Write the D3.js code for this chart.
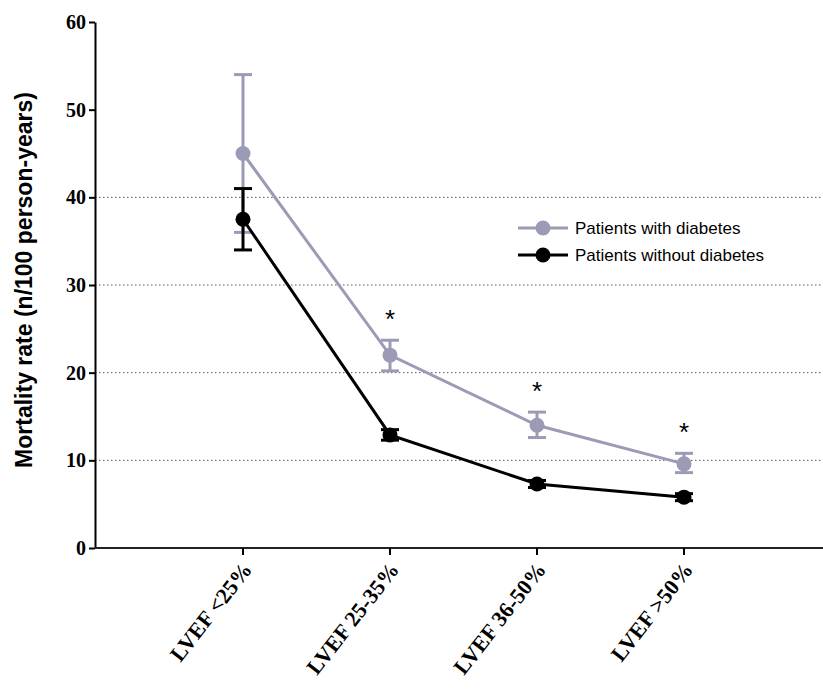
<!DOCTYPE html>
<html><head><meta charset="utf-8">
<script src="https://cdn.jsdelivr.net/npm/d3@7"></script>
<style>body{margin:0;background:#fff}</style>
</head><body>
<svg width="823" height="693"></svg>
<script>
var categories = ["LVEF <25%", "LVEF 25-35%", "LVEF 36-50%", "LVEF >50%"];
var withDiab = [45, 22, 14, 9.6];
var withDiabLo = [36, 20.2, 12.6, 8.6];
var withDiabHi = [54, 23.7, 15.5, 10.8];
var noDiab = [37.5, 12.9, 7.3, 5.8];
var noDiabLo = [34, 12.3, 6.9, 5.4];
var noDiabHi = [41, 13.5, 7.7, 6.2];
var stars = [false, true, true, true];
var yTicks = [0, 10, 20, 30, 40, 50, 60];

var svg = d3.select("svg");
var mLeft = 95, mRight = 823, mTop = 22, mBottom = 548;
var x = d3.scalePoint().domain(categories).range([243, 684]);
var y = d3.scaleLinear().domain([0, 60]).range([mBottom, mTop]);

// grid
svg.selectAll(".grid").data([10, 20, 30, 40]).enter().append("line")
  .attr("x1", mLeft).attr("x2", mRight)
  .attr("y1", function (d) { return y(d); }).attr("y2", function (d) { return y(d); })
  .attr("stroke", "#555").attr("stroke-dasharray", "1.5,2.5").attr("stroke-width", 1);

// y axis
var ya = svg.append("g").attr("transform", "translate(" + mLeft + ",0)")
  .call(d3.axisLeft(y).tickValues(yTicks).tickSize(6).tickSizeOuter(0));
ya.select(".domain").attr("stroke-width", 2);
ya.selectAll(".tick line").attr("stroke-width", 2);
ya.selectAll("text").attr("font-family", "Liberation Serif").attr("font-weight", "bold")
  .attr("font-size", 20).attr("fill", "#000");

// x axis
var xa = svg.append("g").attr("transform", "translate(0," + mBottom + ")");
xa.append("line").attr("x1", mLeft).attr("x2", mRight).attr("stroke", "#222").attr("stroke-width", 2);
xa.selectAll(".t").data(categories).enter().append("line")
  .attr("x1", function (d) { return x(d); }).attr("x2", function (d) { return x(d); })
  .attr("y1", 0).attr("y2", 7).attr("stroke", "#000").attr("stroke-width", 2);
xa.selectAll(".lab").data(categories).enter().append("text")
  .attr("transform", function (d) { return "translate(" + (x(d) + 10) + ",22) rotate(-52)"; })
  .attr("text-anchor", "end").attr("font-family", "Liberation Serif").attr("font-weight", "bold")
  .attr("font-size", 22).text(function (d) { return d; });

svg.append("text").attr("transform", "translate(32," + ((mTop + mBottom) / 2 - 5) + ") rotate(-90)")
  .attr("text-anchor", "middle").attr("font-family", "Liberation Sans").attr("font-weight", "bold")
  .attr("font-size", 23).text("Mortality rate (n/100 person-years)");

function series(vals, lo, hi, color) {
  var g = svg.append("g");
  g.append("path").datum(vals)
    .attr("d", d3.line().x(function (d, i) { return x(categories[i]); }).y(function (d) { return y(d); }))
    .attr("fill", "none").attr("stroke", color).attr("stroke-width", 3);
  categories.forEach(function (c, i) {
    var cx = x(c);
    g.append("line").attr("x1", cx).attr("x2", cx).attr("y1", y(lo[i])).attr("y2", y(hi[i]))
      .attr("stroke", color).attr("stroke-width", 3);
    [lo[i], hi[i]].forEach(function (v) {
      g.append("line").attr("x1", cx - 9).attr("x2", cx + 9).attr("y1", y(v)).attr("y2", y(v))
        .attr("stroke", color).attr("stroke-width", 3);
    });
    g.append("circle").attr("cx", cx).attr("cy", y(vals[i])).attr("r", 7.5).attr("fill", color);
  });
}
series(withDiab, withDiabLo, withDiabHi, "#9b9bb5");
series(noDiab, noDiabLo, noDiabHi, "#000");

svg.selectAll(".star").data(categories.filter(function (c, i) { return stars[i]; })).enter().append("text")
  .attr("x", function (d) { return x(d); })
  .attr("y", function (d) { return y(withDiabHi[categories.indexOf(d)]) - 12; })
  .attr("text-anchor", "middle").attr("font-family", "Liberation Sans").attr("font-size", 26)
  .text("*");

// legend
var legend = [["Patients with diabetes", "#9b9bb5"], ["Patients without diabetes", "#000"]];
var lg = svg.selectAll(".lg").data(legend).enter().append("g")
  .attr("transform", function (d, i) { return "translate(518," + (228 + i * 27) + ")"; });
lg.append("line").attr("x1", 0).attr("x2", 50).attr("stroke", function (d) { return d[1]; }).attr("stroke-width", 3);
lg.append("circle").attr("cx", 25).attr("r", 7.5).attr("fill", function (d) { return d[1]; });
lg.append("text").attr("x", 57).attr("dy", "0.35em").attr("font-family", "Liberation Sans")
  .attr("font-size", 17).text(function (d) { return d[0]; });
</script>
</body></html>
